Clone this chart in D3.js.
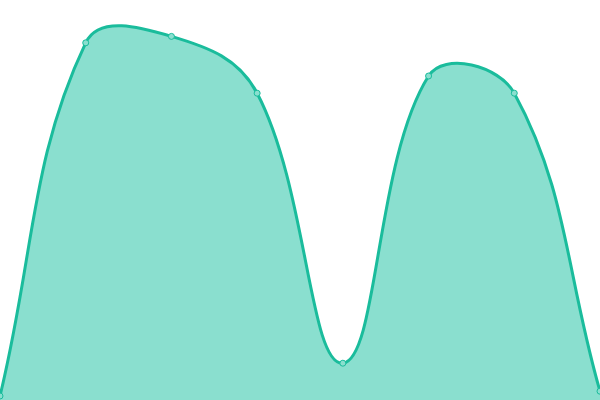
<!DOCTYPE html>
<html><head><meta charset="utf-8">
<script src="https://cdn.jsdelivr.net/npm/d3@7"></script>
<style>html,body{margin:0;padding:0;background:#fff;}svg{display:block;}</style>
</head><body>
<svg id="chart" width="600" height="400"></svg>
<script>
const categories = [0, 1, 2, 3, 4, 5, 6, 7];
const values = [1, 89.3, 90.9, 76.7, 9.2, 81, 76.7, 2.2];

const W = 600, H = 400;
const svg = d3.select("#chart");
const x = d3.scaleLinear().domain([0, 7]).range([0, W]);
const y = d3.scaleLinear().domain([0, 100]).range([H, 0]);
const data = categories.map((c, i) => ({c, v: values[i]}));

// Tension spline curve (distance-weighted control points, tension 0.4)
function SplineCurve(context, t) { this._context = context; this._t = t; }
SplineCurve.prototype = {
  areaStart() { this._line = 0; },
  areaEnd() { this._line = NaN; },
  lineStart() { this._xs = []; this._ys = []; },
  point(px, py) { this._xs.push(+px); this._ys.push(+py); },
  lineEnd() {
    const xs = this._xs, ys = this._ys, n = xs.length, c = this._context, t = this._t;
    if (n) {
      if (this._line) c.lineTo(xs[0], ys[0]); else c.moveTo(xs[0], ys[0]);
      const cp = [];
      for (let i = 0; i < n; i++) {
        const p0 = i > 0 ? i - 1 : i, p2 = i < n - 1 ? i + 1 : i;
        const d01 = Math.hypot(xs[i] - xs[p0], ys[i] - ys[p0]);
        const d12 = Math.hypot(xs[p2] - xs[i], ys[p2] - ys[i]);
        let s01 = d01 / (d01 + d12), s12 = d12 / (d01 + d12);
        if (isNaN(s01)) s01 = 0; if (isNaN(s12)) s12 = 0;
        const fa = t * s01, fb = t * s12;
        const dx = xs[p2] - xs[p0], dy = ys[p2] - ys[p0];
        cp.push({px: xs[i] - fa * dx, py: ys[i] - fa * dy, nx: xs[i] + fb * dx, ny: ys[i] + fb * dy});
      }
      for (let i = 1; i < n; i++) {
        c.bezierCurveTo(cp[i - 1].nx, cp[i - 1].ny, cp[i].px, cp[i].py, xs[i], ys[i]);
      }
    }
    if (this._line || (this._line !== 0 && n === 1)) c.closePath();
    this._line = 1 - this._line;
  }
};
const curve = ctx => new SplineCurve(ctx, 0.4);

svg.append("path").datum(data)
  .attr("d", d3.area().x(d => x(d.c)).y0(H).y1(d => y(d.v)).curve(curve))
  .attr("fill", "#8adfcf");
svg.append("path").datum(data)
  .attr("d", d3.line().x(d => x(d.c)).y(d => y(d.v)).curve(curve))
  .attr("fill", "none").attr("stroke", "#1abc9c").attr("stroke-width", 3);
svg.selectAll("circle").data(data).join("circle")
  .attr("cx", d => x(d.c)).attr("cy", d => y(d.v)).attr("r", 3)
  .attr("fill", "#8adfcf").attr("stroke", "#1abc9c").attr("stroke-width", 1);
</script>
</body></html>
